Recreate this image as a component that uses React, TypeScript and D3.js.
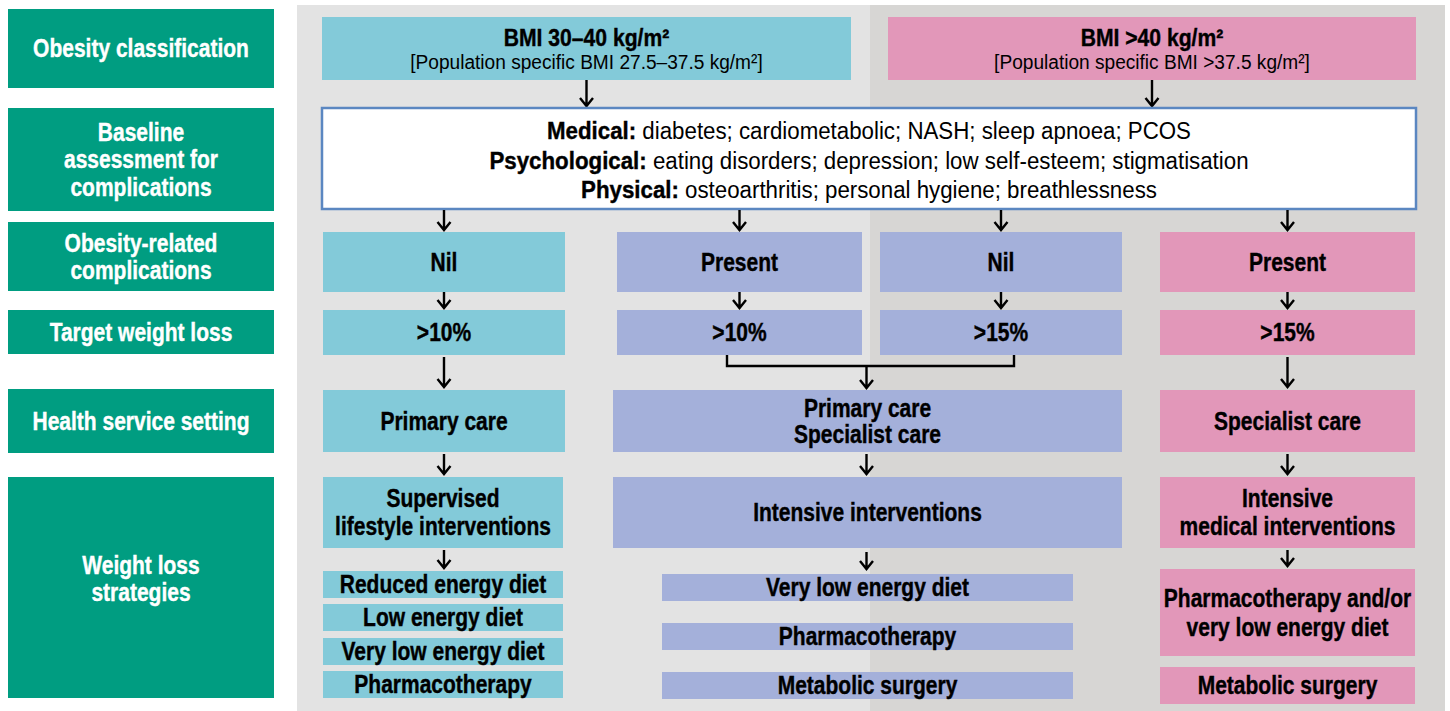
import React from "react";
import * as d3 from "d3";

// ---- content ----
const rowLabels: string[][] = [
  ["Obesity classification"],
  ["Baseline", "assessment for", "complications"],
  ["Obesity-related", "complications"],
  ["Target weight loss"],
  ["Health service setting"],
  ["Weight loss", "strategies"],
];
const bmiClasses = ["BMI 30–40 kg/m²", "BMI >40 kg/m²"];
const bmiSpecific = [
  "[Population specific BMI 27.5–37.5 kg/m²]",
  "[Population specific BMI >37.5 kg/m²]",
];
const assessmentHeads = ["Medical:", "Psychological:", "Physical:"];
const assessmentItems = [
  " diabetes; cardiometabolic; NASH; sleep apnoea; PCOS",
  " eating disorders; depression; low self-esteem; stigmatisation",
  " osteoarthritis; personal hygiene; breathlessness",
];
const complications = ["Nil", "Present", "Nil", "Present"];
const targets = [">10%", ">10%", ">15%", ">15%"];
const settings: string[][] = [["Primary care"], ["Primary care", "Specialist care"], ["Specialist care"]];
const strategies: string[][] = [
  ["Supervised", "lifestyle interventions"],
  ["Intensive interventions"],
  ["Intensive", "medical interventions"],
];
const cyanOptions = ["Reduced energy diet", "Low energy diet", "Very low energy diet", "Pharmacotherapy"];
const purpleOptions = ["Very low energy diet", "Pharmacotherapy", "Metabolic surgery"];
const pinkOptions: string[][] = [["Pharmacotherapy and/or", "very low energy diet"], ["Metabolic surgery"]];

// ---- styles ----
const C = {
  teal: "#009d81",
  cyan: "#83cad9",
  purple: "#a4b0da",
  pink: "#e297b9",
  bg1: "#e3e3e3",
  bg2: "#d7d6d4",
  border: "#5b87c1",
};
const FONT = "'Liberation Sans', Arial, sans-serif";
const BOLD_SIZE = 25;
const BOLD_SX = 0.84;

function T({ x, y, size = BOLD_SIZE, sx = BOLD_SX, weight = "bold", color = "#000", children }: {
  x: number; y: number; size?: number; sx?: number; weight?: string; color?: string; children: React.ReactNode;
}) {
  return (
    <text
      transform={`translate(${x},${y}) scale(${sx},1)`}
      textAnchor="middle"
      fontFamily={FONT}
      fontWeight={weight}
      fontSize={size}
      fill={color}
      stroke={weight === "bold" ? color : "none"}
      strokeWidth={0.4}
    >
      {children}
    </text>
  );
}

type R = { x0: number; x1: number; y0: number; y1: number };

function Box({ r, fill, lines, color = "#000", lh = 27, dy = 0 }: {
  r: R; fill: string; lines: string[]; color?: string; lh?: number; dy?: number;
}) {
  const cx = (r.x0 + r.x1) / 2;
  const cy = (r.y0 + r.y1) / 2 + dy;
  const n = lines.length;
  return (
    <g>
      <rect x={r.x0} y={r.y0} width={r.x1 - r.x0} height={r.y1 - r.y0} fill={fill} />
      {lines.map((t, i) => (
        <T key={i} x={cx} y={cy + (i - (n - 1) / 2) * lh + BOLD_SIZE * 0.355} color={color}>
          {t}
        </T>
      ))}
    </g>
  );
}

function Arrow({ x, y0, y1 }: { x: number; y0: number; y1: number }) {
  const p = d3.path();
  p.moveTo(x, y0);
  p.lineTo(x, y1 - 1);
  p.moveTo(x - 6.5, y1 - 9);
  p.lineTo(x, y1 - 1);
  p.lineTo(x + 6.5, y1 - 9);
  return <path d={p.toString()} fill="none" stroke="#000" strokeWidth={2.4} />;
}

export default function App() {
  const W = 1450, H = 711;
  // layout
  const rowY: [number, number][] = [[9, 88], [108, 211], [222, 291], [310, 354], [389, 453], [477, 698]];
  const labelDy = [0, 0, 0, 0, 0, -9];
  const cyanX: [number, number] = [323, 565];
  const purpleAX: [number, number] = [617, 862];
  const purpleBX: [number, number] = [880, 1122];
  const pinkX: [number, number] = [1160, 1415];
  const colX = [cyanX, purpleAX, purpleBX, pinkX];
  const cx = colX.map((c) => (c[0] + c[1]) / 2);
  const row3: [number, number] = [232, 292];
  const row4: [number, number] = [310, 355];
  const row5: [number, number] = [390, 452];
  const row6: [number, number] = [477, 548];
  const rr = (x: [number, number], y: [number, number]): R => ({ x0: x[0], x1: x[1], y0: y[0], y1: y[1] });

  const wide5X: [number, number] = [613, 1122];
  const cyan6X: [number, number] = [323, 563];
  const purpleSubX: [number, number] = [662, 1073];
  const cyanSubY: [number, number][] = [[571, 598], [604, 631], [638, 665], [671, 698]];
  const purpleSubY: [number, number][] = [[574, 601], [623, 650], [672, 699]];
  const pinkSubY: [number, number][] = [[569, 656], [667, 704]];

  const topX: [number, number][] = [[322, 851], [888, 1416]];
  const topY: [number, number] = [17, 80];
  const white: R = { x0: 322, x1: 1416, y0: 108, y1: 209 };
  const midCol5 = (wide5X[0] + wide5X[1]) / 2 - 1;
  const connY = 366;
  const connL = 727, connR = 1014;

  return (
    <svg width={W} height={H} style={{ position: "absolute", left: 0, top: 0, display: "block" }}>
      <rect x={0} y={0} width={W} height={H} fill="#fff" />
      <rect x={297} y={5} width={573} height={H - 5} fill={C.bg1} />
      <rect x={870} y={5} width={575} height={H - 5} fill={C.bg2} />

      {rowLabels.map((l, i) => (
        <Box key={i} r={{ x0: 8, x1: 274, y0: rowY[i][0], y1: rowY[i][1] }} fill={C.teal} lines={l} color="#fff" lh={27.5} dy={labelDy[i]} />
      ))}

      {/* top classification */}
      {bmiClasses.map((t, i) => {
        const x = topX[i];
        const c = (x[0] + x[1]) / 2;
        return (
          <g key={i}>
            <rect x={x[0]} y={topY[0]} width={x[1] - x[0]} height={topY[1] - topY[0]} fill={i === 0 ? C.cyan : C.pink} />
            <T x={c} y={45.5} size={24} sx={0.88}>{t}</T>
            <T x={c} y={69} size={21} sx={0.91} weight="normal">{bmiSpecific[i]}</T>
            <Arrow x={c} y0={topY[1]} y1={white.y0 - 1} />
          </g>
        );
      })}

      {/* assessment */}
      <rect x={white.x0} y={white.y0} width={white.x1 - white.x0} height={white.y1 - white.y0} fill="#fff" stroke={C.border} strokeWidth={2.5} />
      {assessmentHeads.map((h, i) => (
        <T key={i} x={(white.x0 + white.x1) / 2} y={139 + i * 29.5} size={24.5} sx={0.91} weight="normal">
          <tspan fontWeight="bold" stroke="#000" strokeWidth={0.4}>{h}</tspan>
          <tspan>{assessmentItems[i]}</tspan>
        </T>
      ))}

      {/* complications & targets */}
      {complications.map((t, i) => {
        const fill = i === 0 ? C.cyan : i === 3 ? C.pink : C.purple;
        return (
          <g key={i}>
            <Arrow x={cx[i]} y0={white.y1 + 1} y1={row3[0] - 1} />
            <Box r={rr(colX[i], row3)} fill={fill} lines={[t]} />
            <Arrow x={cx[i]} y0={row3[1]} y1={row4[0] - 1} />
            <Box r={rr(colX[i], row4)} fill={fill} lines={[targets[i]]} />
          </g>
        );
      })}

      {/* connectors to settings */}
      <Arrow x={cx[0]} y0={row4[1] + 2} y1={row5[0] - 2} />
      <Arrow x={cx[3]} y0={row4[1] + 2} y1={row5[0] - 2} />
      <path d={`M${connL},${row4[1]} V${connY} H${connR} V${row4[1]}`} fill="none" stroke="#000" strokeWidth={2.4} />
      <Arrow x={midCol5} y0={connY} y1={row5[0] - 1} />

      {/* settings */}
      <Box r={rr(cyanX, row5)} fill={C.cyan} lines={settings[0]} />
      <Box r={rr(wide5X, row5)} fill={C.purple} lines={settings[1]} lh={26} />
      <Box r={rr(pinkX, row5)} fill={C.pink} lines={settings[2]} />

      <Arrow x={cx[0]} y0={row5[1] + 2} y1={row6[0] - 2} />
      <Arrow x={midCol5} y0={row5[1] + 2} y1={row6[0] - 2} />
      <Arrow x={cx[3]} y0={row5[1] + 2} y1={row6[0] - 2} />

      {/* strategies */}
      <Box r={rr(cyan6X, row6)} fill={C.cyan} lines={strategies[0]} lh={28} />
      <Box r={rr(wide5X, row6)} fill={C.purple} lines={strategies[1]} />
      <Box r={rr(pinkX, row6)} fill={C.pink} lines={strategies[2]} lh={28} />

      <Arrow x={cx[0]} y0={row6[1] + 2} y1={cyanSubY[0][0] - 2} />
      <Arrow x={midCol5} y0={row6[1] + 4} y1={purpleSubY[0][0] - 4} />
      <Arrow x={cx[3]} y0={row6[1] + 2} y1={pinkSubY[0][0] - 2} />

      {cyanOptions.map((t, i) => (
        <Box key={i} r={rr(cyan6X, cyanSubY[i])} fill={C.cyan} lines={[t]} />
      ))}
      {purpleOptions.map((t, i) => (
        <Box key={i} r={rr(purpleSubX, purpleSubY[i])} fill={C.purple} lines={[t]} />
      ))}
      {pinkOptions.map((t, i) => (
        <Box key={i} r={rr(pinkX, pinkSubY[i])} fill={C.pink} lines={t} lh={29} />
      ))}
    </svg>
  );
}
